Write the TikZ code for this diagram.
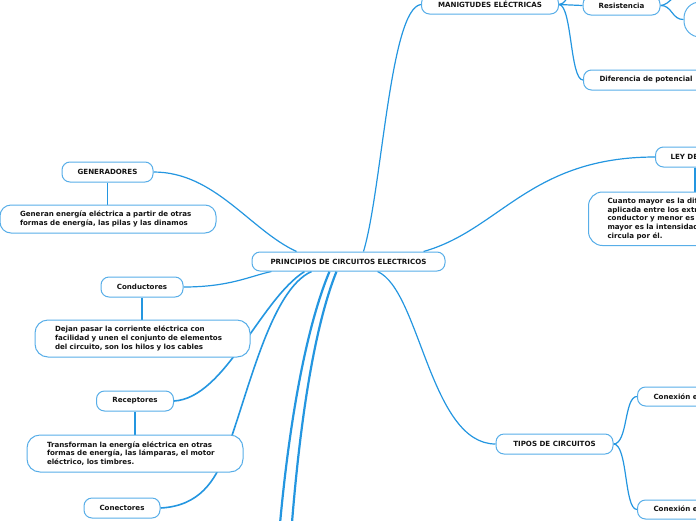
\documentclass[tikz,border=0pt]{standalone}
\usepackage{fontspec}
\setmainfont{DejaVu Sans}
\usetikzlibrary{backgrounds,calc}
\definecolor{lineblue}{RGB}{36,150,224}
\definecolor{boxblue}{RGB}{88,174,232}
\definecolor{txt}{RGB}{20,20,20}
\begin{document}
\begin{tikzpicture}[x=1pt,y=-1pt,
  box/.style={draw=boxblue,line width=1pt,rounded corners=8pt,fill=white,inner sep=0pt,text=txt,font=\fontsize{7.1}{8.7}\selectfont\bfseries},
  wire/.style={draw=lineblue,line width=1.2pt},
  wiremid/.style={draw=lineblue,line width=1.6pt},
  wirethick/.style={draw=lineblue,line width=2.2pt}]
\useasboundingbox (0,0) rectangle (696,520);
\clip (0,0) rectangle (696,520);
% nodes
\node[box,minimum width=193pt,minimum height=19pt] (c) at (348.5,261.5) {PRINCIPIOS DE CIRCUITOS ELECTRICOS};
\node[box,minimum width=137pt,minimum height=19pt] (man) at (490,4.5) {MANIGTUDES ELÉCTRICAS};
\node[box,minimum width=77pt,minimum height=19pt] (res) at (621.5,5.5) {Resistencia};
\node[box,minimum width=90pt,minimum height=35pt,rounded corners=16pt] (big) at (729,19.5) {};
\node[box,anchor=west,inner xsep=16pt,minimum height=20pt] (dif) at (583,80) {Diferencia de potencial};
\node[box,anchor=west,inner xsep=15pt,minimum height=20pt] (ley) at (655,157) {LEY DE OHM};
\node[box,anchor=north west,inner xsep=19pt,minimum height=53.5pt,align=left,rounded corners=14pt] (cuanto) at (588,191.5) {Cuanto mayor es la diferencia de potencial\\aplicada entre los extremos de un\\conductor y menor es la resistencia,\\mayor es la intensidad de corriente que\\circula por él.};
\node[box,minimum width=91pt,minimum height=20pt] (gen) at (107.5,172) {GENERADORES};
\node[box,text width=176pt,inner xsep=20pt,minimum height=28pt,align=left,rounded corners=11pt] (genT) at (108,219) {Generan energía eléctrica a partir de otras\\formas de energía, las pilas y las dinamos};
\node[box,minimum width=82pt,minimum height=20pt] (cond) at (142,287) {Conductores};
\node[box,text width=175pt,inner xsep=20pt,minimum height=37pt,align=left,rounded corners=13pt] (condT) at (142.5,338.5) {Dejan pasar la corriente eléctrica con\\facilidad y unen el conjunto de elementos\\del circuito, son los hilos y los cables};
\node[box,minimum width=77pt,minimum height=20pt] (rec) at (135,401) {Receptores};
\node[box,text width=176pt,inner xsep=20pt,minimum height=37pt,align=left,rounded corners=13pt] (recT) at (135,453.5) {Transforman la energía eléctrica en otras\\formas de energía, las lámparas, el motor\\eléctrico, los timbres.};
\node[box,minimum width=76pt,minimum height=20pt] (conec) at (122,508) {Conectores};
\node[box,minimum width=117pt,minimum height=20pt] (tipos) at (554.5,444) {TIPOS DE CIRCUITOS};
\node[box,anchor=west,inner xsep=16pt,minimum height=19pt] (cx1) at (637,396.5) {Conexión en serie};
\node[box,anchor=west,inner xsep=16pt,minimum height=19pt] (cx2) at (637,509.5) {Conexión en paralelo};
% free ends
\coordinate (manup) at (585,-40);
\coordinate (resup) at (690,-20);
\coordinate (d1) at (279,535);
\coordinate (d2) at (291,535);
\coordinate (lk) at ($(ley.south west)+(40,0)$);
% connectors
\begin{scope}[on background layer]
\draw[wire] ($(c.north west)+(112,0)$) .. controls (382,190) and (390,8) .. (man.west);
\draw[wire] ($(c.north east)+(-22,0)$) .. controls (500,230) and (530,157) .. (ley.west);
\draw[wire] ($(c.south west)+(126,0)$) .. controls (420,290) and (430,444) .. (tipos.west);
\draw[wire] (gen.east) .. controls (215,172) and (250,230) .. ($(c.north west)+(45,0)$);
\draw[wire] (cond.east) .. controls (230,287) and (250,276) .. ($(c.south west)+(20,0)$);
\draw[wiremid] (rec.east) .. controls (225,398) and (260,300) .. ($(c.south west)+(53,0)$);
\draw[wiremid] (conec.east) .. controls (200,506) and (215,480) .. (225,455) .. controls (248,395) and (270,290) .. ($(c.south west)+(60,0)$);
\draw[wirethick] ($(c.south west)+(78,0)$) .. controls (305,330) and (288,430) .. (d1);
\draw[wirethick] ($(c.south west)+(85,0)$) .. controls (313,330) and (299,430) .. (d2);
\draw[wire] (man.east) -- (res.west);
\draw[wire] (man.east) .. controls (572,5) and (570,80) .. (dif.west);
\draw[wire] (man.east) .. controls (570,5) and (575,-30) .. (manup);
\draw[wire] (res.east) .. controls (672,5) and (672,20) .. (big.west);
\draw[wire] (res.east) .. controls (670,5) and (676,-8) .. (resup);
\draw[wire] (lk) -- (lk |- cuanto.north);
\draw[wire] (gen.south) -- (gen.south |- genT.north);
\draw[wire] (cond.south) -- (cond.south |- condT.north);
\draw[wire] (rec.south) -- (rec.south |- recT.north);
\draw[wire] (tipos.east) .. controls (628,444) and (624,396.5) .. (cx1.west);
\draw[wire] (tipos.east) .. controls (628,444) and (624,509.5) .. (cx2.west);
\end{scope}
\end{tikzpicture}
\end{document}
